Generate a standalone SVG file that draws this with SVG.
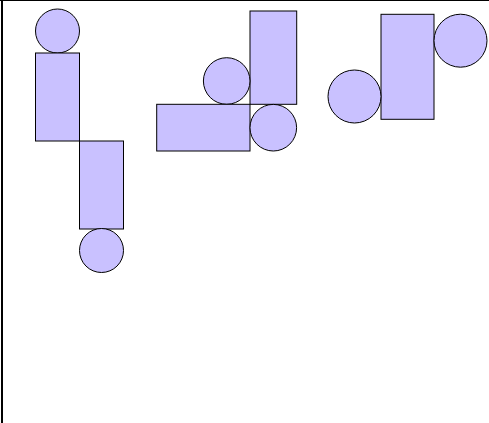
<svg xmlns="http://www.w3.org/2000/svg" width="489" height="423" viewBox="0 0 489 423">
<style>
.s{fill:#c9c1ff;stroke:#000;stroke-width:1}
.b{stroke:#000;fill:none}
</style>
<rect width="489" height="423" fill="#fff"/>
<g id="frame">
<line class="b" x1="0" y1="0.5" x2="489" y2="0.5" stroke-width="1"/>
<line class="b" x1="2" y1="0" x2="2" y2="423" stroke-width="2"/>
</g>
<g id="g1">
<circle id="c1a" class="s" cx="57.5" cy="31" r="22"/>
<rect id="r1a" class="s" x="35.5" y="53" width="44" height="88"/>
<rect id="r1b" class="s" x="79.5" y="141" width="44" height="88"/>
<circle id="c1b" class="s" cx="101.5" cy="250.5" r="22"/>
</g>
<g id="g2">
<rect id="r2a" class="s" x="250" y="11" width="46.7" height="93.3"/>
<circle id="c2a" class="s" cx="226.7" cy="81" r="23.3"/>
<rect id="r2b" class="s" x="156.7" y="104.3" width="93.3" height="46.7"/>
<circle id="c2b" class="s" cx="273.3" cy="127.7" r="23.3"/>
</g>
<g id="g3">
<rect id="r3" class="s" x="381" y="14.3" width="53" height="105"/>
<circle id="c3a" class="s" cx="460.5" cy="40.7" r="26.5"/>
<circle id="c3b" class="s" cx="354.5" cy="96.5" r="26.5"/>
</g>
<g id="connectors"></g>
</svg>
